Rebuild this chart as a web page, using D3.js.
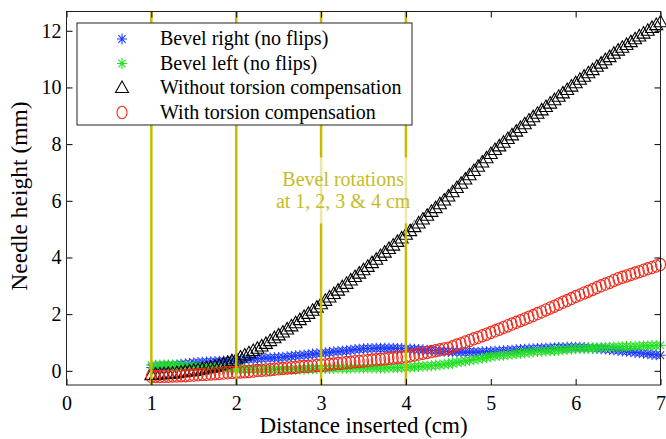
<!DOCTYPE html>
<html>
<head>
<meta charset="utf-8">
<script src="https://cdn.jsdelivr.net/npm/d3@7"></script>
<style>
  body { margin: 0; background: #fff; }
  svg { display: block; }
  svg text { font-family: "Liberation Serif", "Times New Roman", serif; }
</style>
</head>
<body>
<div id="chart"></div>
<script>
// distance inserted (cm), one sample every 0.05 cm
const distance = [
  1.00, 1.05, 1.10, 1.15, 1.20, 1.25, 1.30, 1.35, 1.40, 1.45, 1.50,
  1.55, 1.60, 1.65, 1.70, 1.75, 1.80, 1.85, 1.90, 1.95, 2.00,
  2.05, 2.10, 2.15, 2.20, 2.25, 2.30, 2.35, 2.40, 2.45, 2.50,
  2.55, 2.60, 2.65, 2.70, 2.75, 2.80, 2.85, 2.90, 2.95, 3.00,
  3.05, 3.10, 3.15, 3.20, 3.25, 3.30, 3.35, 3.40, 3.45, 3.50,
  3.55, 3.60, 3.65, 3.70, 3.75, 3.80, 3.85, 3.90, 3.95, 4.00,
  4.05, 4.10, 4.15, 4.20, 4.25, 4.30, 4.35, 4.40, 4.45, 4.50,
  4.55, 4.60, 4.65, 4.70, 4.75, 4.80, 4.85, 4.90, 4.95, 5.00,
  5.05, 5.10, 5.15, 5.20, 5.25, 5.30, 5.35, 5.40, 5.45, 5.50,
  5.55, 5.60, 5.65, 5.70, 5.75, 5.80, 5.85, 5.90, 5.95, 6.00,
  6.05, 6.10, 6.15, 6.20, 6.25, 6.30, 6.35, 6.40, 6.45, 6.50,
  6.55, 6.60, 6.65, 6.70, 6.75, 6.80, 6.85, 6.90, 6.95, 7.00,
];

// needle height (mm)
const bevelRight = [
  0.12, 0.14, 0.15, 0.17, 0.18, 0.20, 0.21, 0.23, 0.24, 0.26, 0.28,
  0.29, 0.30, 0.31, 0.32, 0.33, 0.34, 0.35, 0.36, 0.37, 0.38,
  0.39, 0.40, 0.41, 0.42, 0.43, 0.44, 0.45, 0.45, 0.46, 0.47,
  0.48, 0.50, 0.51, 0.53, 0.54, 0.56, 0.57, 0.59, 0.60, 0.62,
  0.64, 0.65, 0.67, 0.68, 0.70, 0.71, 0.73, 0.75, 0.76, 0.78,
  0.79, 0.79, 0.80, 0.80, 0.80, 0.80, 0.80, 0.79, 0.79, 0.78,
  0.77, 0.76, 0.75, 0.74, 0.73, 0.72, 0.71, 0.70, 0.69, 0.68,
  0.67, 0.67, 0.66, 0.66, 0.66, 0.66, 0.66, 0.67, 0.67, 0.68,
  0.69, 0.70, 0.71, 0.72, 0.73, 0.74, 0.75, 0.76, 0.77, 0.78,
  0.79, 0.80, 0.80, 0.81, 0.81, 0.82, 0.82, 0.83, 0.83, 0.83,
  0.83, 0.82, 0.81, 0.80, 0.79, 0.78, 0.77, 0.75, 0.74, 0.72,
  0.70, 0.69, 0.67, 0.65, 0.64, 0.62, 0.60, 0.58, 0.57, 0.55,
];

const bevelLeft = [
  0.20, 0.20, 0.21, 0.21, 0.21, 0.20, 0.20, 0.19, 0.18, 0.17, 0.15,
  0.14, 0.13, 0.12, 0.11, 0.10, 0.09, 0.08, 0.07, 0.07, 0.06,
  0.06, 0.05, 0.05, 0.05, 0.04, 0.04, 0.04, 0.04, 0.05, 0.05,
  0.05, 0.05, 0.05, 0.06, 0.06, 0.06, 0.07, 0.07, 0.07, 0.08,
  0.08, 0.08, 0.08, 0.09, 0.09, 0.09, 0.09, 0.10, 0.10, 0.10,
  0.10, 0.10, 0.10, 0.10, 0.10, 0.11, 0.11, 0.11, 0.12, 0.12,
  0.13, 0.14, 0.15, 0.16, 0.17, 0.18, 0.20, 0.21, 0.23, 0.25,
  0.27, 0.30, 0.32, 0.35, 0.37, 0.40, 0.42, 0.45, 0.47, 0.50,
  0.52, 0.54, 0.55, 0.57, 0.59, 0.60, 0.62, 0.64, 0.65, 0.67,
  0.68, 0.69, 0.70, 0.71, 0.72, 0.73, 0.74, 0.75, 0.77, 0.78,
  0.79, 0.79, 0.80, 0.81, 0.81, 0.82, 0.83, 0.83, 0.84, 0.85,
  0.85, 0.86, 0.86, 0.87, 0.87, 0.88, 0.88, 0.89, 0.89, 0.90,
];

const withoutTorsion = [
  -0.15, -0.14, -0.13, -0.12, -0.11, -0.10, -0.08, -0.06, -0.04, -0.02, 0.00,
  0.02, 0.05, 0.08, 0.11, 0.15, 0.19, 0.23, 0.28, 0.34, 0.40,
  0.47, 0.54, 0.62, 0.70, 0.78, 0.86, 0.95, 1.05, 1.15, 1.25,
  1.35, 1.46, 1.57, 1.68, 1.79, 1.90, 2.01, 2.12, 2.23, 2.35,
  2.47, 2.59, 2.71, 2.83, 2.95, 3.07, 3.19, 3.31, 3.43, 3.55,
  3.67, 3.80, 3.92, 4.05, 4.17, 4.30, 4.42, 4.55, 4.67, 4.80,
  4.93, 5.07, 5.20, 5.34, 5.47, 5.61, 5.74, 5.88, 6.01, 6.15,
  6.30, 6.45, 6.60, 6.75, 6.90, 7.05, 7.20, 7.35, 7.50, 7.65,
  7.79, 7.92, 8.05, 8.18, 8.31, 8.44, 8.57, 8.70, 8.83, 8.95,
  9.07, 9.19, 9.31, 9.43, 9.55, 9.67, 9.79, 9.91, 10.03, 10.15,
  10.27, 10.38, 10.50, 10.61, 10.73, 10.84, 10.96, 11.07, 11.19, 11.30,
  11.40, 11.50, 11.60, 11.70, 11.80, 11.90, 12.00, 12.10, 12.20, 12.30,
];

const withTorsion = [
  -0.20, -0.20, -0.20, -0.19, -0.19, -0.18, -0.18, -0.17, -0.17, -0.16, -0.15,
  -0.14, -0.13, -0.12, -0.11, -0.10, -0.09, -0.08, -0.07, -0.06, -0.05,
  -0.04, -0.03, -0.02, -0.01, 0.01, 0.02, 0.03, 0.04, 0.06, 0.07,
  0.08, 0.10, 0.11, 0.12, 0.14, 0.15, 0.16, 0.17, 0.19, 0.20,
  0.21, 0.23, 0.24, 0.26, 0.27, 0.29, 0.30, 0.32, 0.33, 0.35,
  0.36, 0.38, 0.39, 0.41, 0.42, 0.44, 0.45, 0.47, 0.48, 0.50,
  0.53, 0.56, 0.59, 0.62, 0.65, 0.68, 0.71, 0.74, 0.77, 0.80,
  0.85, 0.91, 0.96, 1.02, 1.07, 1.13, 1.18, 1.24, 1.29, 1.35,
  1.41, 1.47, 1.53, 1.59, 1.65, 1.71, 1.77, 1.83, 1.89, 1.95,
  2.02, 2.08, 2.15, 2.22, 2.28, 2.35, 2.42, 2.48, 2.55, 2.62,
  2.68, 2.75, 2.81, 2.87, 2.94, 3.00, 3.06, 3.12, 3.19, 3.25,
  3.30, 3.35, 3.40, 3.45, 3.50, 3.55, 3.60, 3.65, 3.70, 3.75,
];

const rotations = [1, 2, 3, 4];
const xTicks = [0, 1, 2, 3, 4, 5, 6, 7];
const yTicks = [0, 2, 4, 6, 8, 10, 12];

const seriesNames = [
  "Bevel right (no flips)",
  "Bevel left (no flips)",
  "Without torsion compensation",
  "With torsion compensation",
];

const W = 666;
const H = 439;
const margin = { top: 11.5, right: 5.5, bottom: 54, left: 66.5 };
const width = W - margin.left - margin.right;
const height = H - margin.top - margin.bottom;

const serif = "Liberation Serif";
const yellow = "#c8bb00";

const markers = {
  star: "M0,-5.5V5.5M-5,0H5M-3.6,-3.9L3.6,3.9M-3.6,3.9L3.6,-3.9",
  triangle: "M0,-7L6.5,4.5L-6.5,4.5Z",
  circle: "M-5,0A5,6.2 0 1,0 5,0A5,6.2 0 1,0 -5,0Z",
};

const series = [
  { name: seriesNames[0], values: bevelRight, color: "#1f3bff", marker: "star" },
  { name: seriesNames[1], values: bevelLeft, color: "#22e022", marker: "star" },
  { name: seriesNames[2], values: withoutTorsion, color: "#000000", marker: "triangle" },
  { name: seriesNames[3], values: withTorsion, color: "#ee2a1a", marker: "circle" },
];

const x = d3.scaleLinear().domain([0, 7]).range([0, width]);
const y = d3.scaleLinear().domain([-0.5, 12.68]).range([height, 0]);

const svg = d3
  .select("#chart")
  .append("svg")
  .attr("width", W)
  .attr("height", H)
  .attr("font-family", serif);

const g = svg
  .append("g")
  .attr("transform", `translate(${margin.left},${margin.top})`);

// data markers
series.forEach((s) => {
  g.append("g")
    .attr("fill", "none")
    .attr("stroke", s.color)
    .attr("stroke-width", 1.1)
    .selectAll("path")
    .data(s.values)
    .join("path")
    .attr("transform", (d, i) => `translate(${x(distance[i])},${y(d)})`)
    .attr("d", markers[s.marker]);
});

// bevel rotation lines
g.append("g")
  .selectAll("line")
  .data(rotations)
  .join("line")
  .attr("x1", (d) => x(d))
  .attr("x2", (d) => x(d))
  .attr("y1", 0)
  .attr("y2", height)
  .attr("stroke", yellow)
  .attr("stroke-width", 2.5);

// annotation
const noteX = x(3.26);
g.append("rect")
  .attr("x", noteX - 72)
  .attr("y", 146)
  .attr("width", 144)
  .attr("height", 66)
  .attr("fill", "#fff")
  .attr("fill-opacity", 0.65);

g.append("text")
  .attr("x", noteX)
  .attr("y", 174.5)
  .attr("text-anchor", "middle")
  .attr("font-family", serif)
  .attr("font-size", 20)
  .attr("fill", "#c6bc2a")
  .selectAll("tspan")
  .data(["Bevel rotations", "at 1, 2, 3 & 4 cm"])
  .join("tspan")
  .attr("x", noteX)
  .attr("dy", (d, i) => (i ? 22 : 0))
  .text((d) => d);

// axes with inward ticks
const fmt = d3.format("d");
const serifTicks = (a) =>
  a.attr("font-family", serif)
    .attr("font-size", 20)
    .selectAll("text")
    .attr("font-family", serif)
    .attr("fill", "#000");

g.append("g")
  .attr("transform", `translate(0,${height})`)
  .call(d3.axisBottom(x).tickValues(xTicks).tickFormat(fmt).tickSize(-6).tickPadding(11))
  .call((a) => a.select(".domain").remove())
  .call(serifTicks);

g.append("g")
  .call(d3.axisTop(x).tickValues(xTicks).tickSize(-6).tickFormat(""))
  .call((a) => a.select(".domain").remove());

g.append("g")
  .call(d3.axisLeft(y).tickValues(yTicks).tickFormat(fmt).tickSize(-6).tickPadding(5))
  .call((a) => a.select(".domain").remove())
  .call(serifTicks);

g.append("g")
  .attr("transform", `translate(${width},0)`)
  .call(d3.axisRight(y).tickValues(yTicks).tickSize(-6).tickFormat(""))
  .call((a) => a.select(".domain").remove());

g.append("rect")
  .attr("width", width)
  .attr("height", height)
  .attr("fill", "none")
  .attr("stroke", "#222");

// axis labels
svg
  .append("text")
  .attr("x", margin.left + x(3.5))
  .attr("y", 433)
  .attr("text-anchor", "middle")
  .attr("font-family", serif)
  .attr("font-size", 23)
  .text("Distance inserted (cm)");

svg
  .append("text")
  .attr("transform", `translate(27,196) rotate(-90)`)
  .attr("text-anchor", "middle")
  .attr("font-family", serif)
  .attr("font-size", 23.5)
  .text("Needle height (mm)");

// legend
const legend = svg.append("g").attr("transform", "translate(77,23)");

legend
  .append("rect")
  .attr("width", 335)
  .attr("height", 102)
  .attr("fill", "#fff")
  .attr("stroke", "#222");

const item = legend
  .selectAll("g")
  .data(series)
  .join("g")
  .attr("transform", (d, i) => `translate(0,${16 + i * 24.5})`);

item
  .append("path")
  .attr("transform", "translate(45,0)")
  .attr("d", (d) => markers[d.marker])
  .attr("fill", "none")
  .attr("stroke", (d) => d.color)
  .attr("stroke-width", 1.1);

item
  .append("text")
  .attr("x", 83)
  .attr("y", 6)
  .attr("font-family", serif)
  .attr("font-size", 20)
  .text((d) => d.name);
</script>
</body>
</html>
